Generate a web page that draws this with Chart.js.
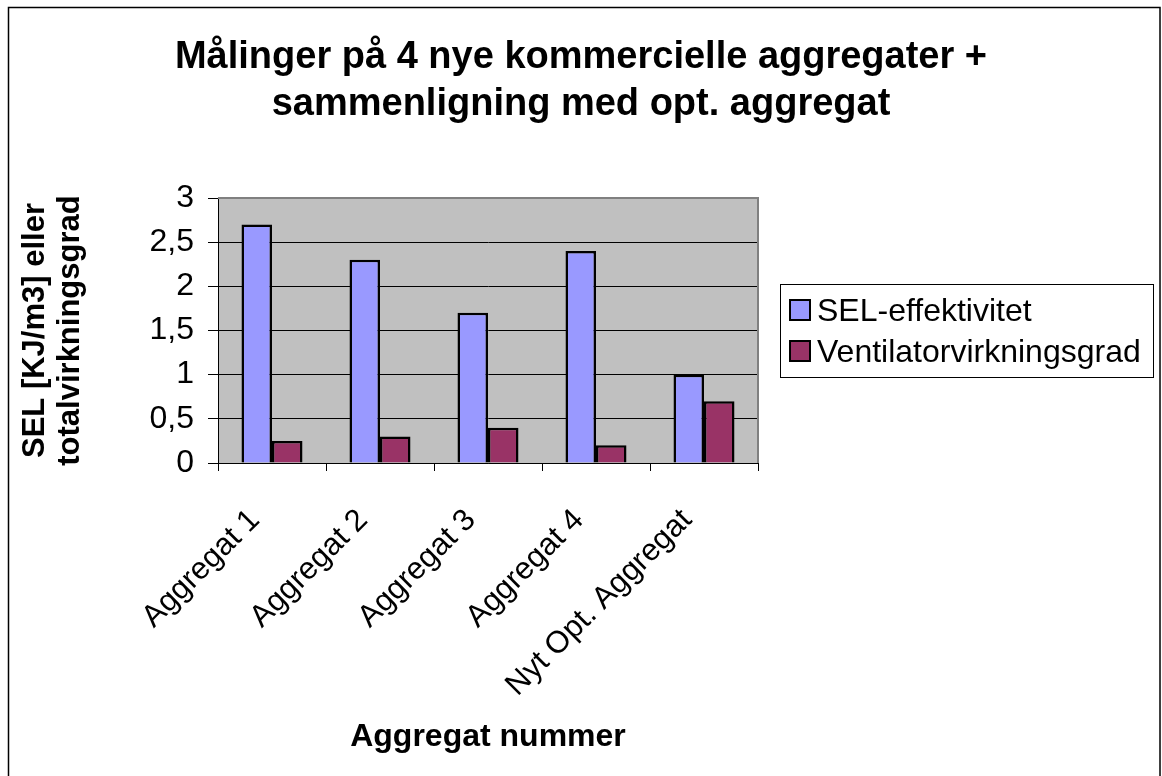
<!DOCTYPE html>
<html>
<head>
<meta charset="utf-8">
<script src="https://cdn.jsdelivr.net/npm/chart.js"></script>
<style>
html,body{margin:0;padding:0;background:#fff;}
canvas{display:block;}
</style>
</head>
<body>
<canvas id="c" width="1162" height="776"></canvas>
<script>
const categories = ["Aggregat 1", "Aggregat 2", "Aggregat 3", "Aggregat 4", "Nyt Opt. Aggregat"];
const selEffektivitet = [2.7, 2.3, 1.7, 2.4, 1.0];
const ventilatorVirkningsgrad = [0.25, 0.3, 0.4, 0.2, 0.7];
const seriesNames = ["SEL-effektivitet", "Ventilatorvirkningsgrad"];
const titleLines = ["Målinger på 4 nye kommercielle aggregater +", "sammenligning med opt. aggregat"];
const yTitleLines = ["SEL [KJ/m3] eller", "totalvirkningsgrad"];
const xTitle = "Aggregat nummer";

const FONT = "'Liberation Sans', Arial, Helvetica, sans-serif";

const framePlugin = {
  id: 'frame',
  beforeDraw(chart) {
    const ctx = chart.ctx;
    ctx.save();
    ctx.fillStyle = '#fff';
    ctx.fillRect(0, 0, chart.width, chart.height);
    ctx.strokeStyle = '#000';
    ctx.lineWidth = 1.5;
    ctx.strokeRect(8.5, 7.5, 1151.5, 800);
    const a = chart.chartArea;
    ctx.fillStyle = '#C0C0C0';
    ctx.fillRect(a.left, a.top, a.right - a.left, a.bottom - a.top);
    ctx.restore();
  },
  afterDatasetsDraw(chart) {
    const ctx = chart.ctx;
    const a = chart.chartArea;
    ctx.save();
    ctx.strokeStyle = '#808080';
    ctx.lineWidth = 2;
    ctx.beginPath();
    ctx.moveTo(a.left, a.top);
    ctx.lineTo(a.right, a.top);
    ctx.lineTo(a.right, a.bottom);
    ctx.stroke();
    ctx.restore();
  },
  afterDraw(chart) {
    const ctx = chart.ctx;
    ctx.save();
    const bx = 780.5, by = 284.5, bw = 373, bh = 93;
    ctx.fillStyle = '#fff';
    ctx.fillRect(bx, by, bw, bh);
    ctx.strokeStyle = '#000';
    ctx.lineWidth = 1;
    ctx.strokeRect(bx, by, bw, bh);
    const baselines = [321, 362];
    chart.data.datasets.forEach((ds, i) => {
      const base = baselines[i];
      ctx.fillStyle = ds.backgroundColor;
      ctx.fillRect(790, base - 21, 20, 20);
      ctx.strokeStyle = '#000';
      ctx.lineWidth = 2;
      ctx.strokeRect(790, base - 21, 20, 20);
      ctx.fillStyle = '#000';
      ctx.font = "32px " + FONT;
      ctx.textBaseline = 'alphabetic';
      ctx.textAlign = 'left';
      ctx.fillText(ds.label, 817, base);
    });
    ctx.restore();
  }
};

new Chart(document.getElementById('c'), {
  type: 'bar',
  data: {
    labels: categories,
    datasets: [
      { label: seriesNames[0], data: selEffektivitet, backgroundColor: '#9999FF', borderColor: '#000', borderWidth: 2.5 },
      { label: seriesNames[1], data: ventilatorVirkningsgrad, backgroundColor: '#993366', borderColor: '#000', borderWidth: 2.5 }
    ]
  },
  options: {
    responsive: false,
    animation: false,
    layout: { padding: 0 },
    datasets: { bar: { categoryPercentage: 0.565, barPercentage: 1.0 } },
    plugins: {
      legend: { display: false },
      tooltip: { enabled: false },
      title: {
        display: true,
        text: titleLines,
        color: '#000',
        font: { family: FONT, size: 38, weight: 'bold', lineHeight: 1.237 },
        padding: { top: 34.5, bottom: 69.5 }
      }
    },
    scales: {
      x: {
        grid: { display: true, drawOnChartArea: false, drawTicks: true, tickLength: 8, color: '#000', offset: true },
        border: { display: true, color: '#000', width: 1 },
        ticks: {
          color: '#000', font: { family: FONT, size: 31 },
          minRotation: 45, maxRotation: 45, autoSkip: false,
          labelOffset: -17, padding: 31
        },
        title: {
          display: true, text: xTitle, color: '#000',
          font: { family: FONT, size: 32, weight: 'bold', lineHeight: 1.2 },
          padding: { top: 0, bottom: 20 }
        },
        afterFit(s) { s.height = 313; }
      },
      y: {
        min: 0, max: 3,
        grid: { color: '#000', drawTicks: true, tickLength: 10, lineWidth: 1 },
        border: { display: true, color: '#000', width: 1 },
        ticks: {
          stepSize: 0.5, color: '#000', font: { family: FONT, size: 32 }, padding: 14,
          callback: v => String(v).replace('.', ',')
        },
        title: {
          display: true, text: yTitleLines, color: '#000',
          font: { family: FONT, size: 31, weight: 'bold', lineHeight: 1.12 },
          padding: { top: 18, bottom: 0 }
        },
        afterFit(s) { s.width = 218; }
      },
      yRight: {
        axis: 'y', type: 'linear', position: 'right', display: true,
        grid: { display: false, drawTicks: false }, border: { display: false },
        ticks: { display: false },
        afterFit(s) { s.width = 404; }
      }
    }
  },
  plugins: [framePlugin]
});
</script>
</body>
</html>
